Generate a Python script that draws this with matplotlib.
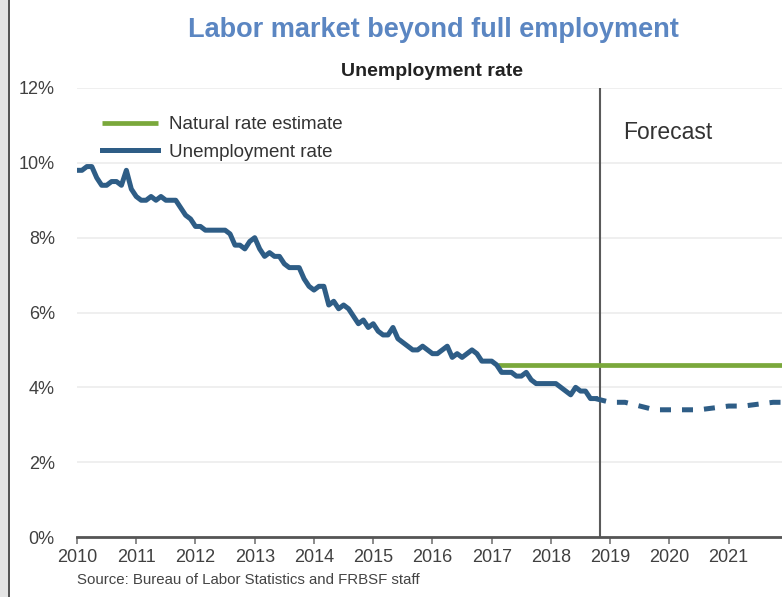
import numpy as np
import matplotlib.pyplot as plt
from matplotlib.patches import Rectangle

plt.rcParams['font.family'] = ['Liberation Sans', 'DejaVu Sans']

# monthly unemployment rate, Jan 2010 - Oct 2018
unrate = [9.8, 9.8, 9.9, 9.9, 9.6, 9.4, 9.4, 9.5, 9.5, 9.4, 9.8, 9.3,
          9.1, 9.0, 9.0, 9.1, 9.0, 9.1, 9.0, 9.0, 9.0, 8.8, 8.6, 8.5,
          8.3, 8.3, 8.2, 8.2, 8.2, 8.2, 8.2, 8.1, 7.8, 7.8, 7.7, 7.9,
          8.0, 7.7, 7.5, 7.6, 7.5, 7.5, 7.3, 7.2, 7.2, 7.2, 6.9, 6.7,
          6.6, 6.7, 6.7, 6.2, 6.3, 6.1, 6.2, 6.1, 5.9, 5.7, 5.8, 5.6,
          5.7, 5.5, 5.4, 5.4, 5.6, 5.3, 5.2, 5.1, 5.0, 5.0, 5.1, 5.0,
          4.9, 4.9, 5.0, 5.1, 4.8, 4.9, 4.8, 4.9, 5.0, 4.9, 4.7, 4.7,
          4.7, 4.6, 4.4, 4.4, 4.4, 4.3, 4.3, 4.4, 4.2, 4.1, 4.1, 4.1,
          4.1, 4.1, 4.0, 3.9, 3.8, 4.0, 3.9, 3.9, 3.7, 3.7]
months = 2010 + np.arange(len(unrate)) / 12

# quarterly forecast
fc_x = [2018.75, 2019.0, 2019.25, 2019.5, 2019.75, 2020.0, 2020.25, 2020.5,
        2020.75, 2021.0, 2021.25, 2021.5, 2021.75, 2022.0]
fc_y = [3.7, 3.6, 3.6, 3.5, 3.4, 3.4, 3.4, 3.4, 3.45, 3.5, 3.5, 3.55, 3.6, 3.6]

natural_x = [2017.1, 2022.0]
natural_y = [4.6, 4.6]

forecast_start = 2018.82
years = list(range(2010, 2022))

blue = '#2e5d86'
green = '#7aa83b'

fig = plt.figure(figsize=(7.82, 5.97), dpi=100)
ax = fig.add_axes([77 / 782, 1 - 537 / 597, 1 - 77 / 782, (537 - 88) / 597])

ax.plot(natural_x, natural_y, color=green, lw=3.4, label='Natural rate estimate',
        solid_capstyle='butt')
ax.plot(months, unrate, color=blue, lw=3.6, label='Unemployment rate',
        solid_joinstyle='round')
ax.plot(fc_x, fc_y, color=blue, lw=3.6, ls=(0, (2.2, 2.2)))
ax.axvline(forecast_start, color='#5a5a5a', lw=1.5, zorder=1)

ax.set_xlim(2010, 2021.9)
ax.set_ylim(0, 12)
ax.set_yticks(range(0, 13, 2))
ax.set_yticklabels([f'{v}%' for v in range(0, 13, 2)])
ax.set_xticks(years)
ax.set_xticklabels([str(y) for y in years])
ax.grid(axis='y', color='#ececec', lw=1.2)
ax.set_axisbelow(True)

for s in ['top', 'right', 'left']:
    ax.spines[s].set_visible(False)
ax.spines['bottom'].set_color('#555555')
ax.spines['bottom'].set_linewidth(2)
ax.tick_params(axis='x', length=5, width=1.2, color='#777777', labelsize=13,
               labelcolor='#404040', pad=4)
ax.tick_params(axis='y', length=0, labelsize=13, labelcolor='#404040', pad=16)

leg = ax.legend(loc='upper left', bbox_to_anchor=(0.011, 0.975), frameon=False,
                fontsize=13.5, handlelength=3.0, handletextpad=0.6,
                labelspacing=0.55, labelcolor='#333333')

ax.text(2018.82 + 0.4, 10.8, 'Forecast', fontsize=16.5, color='#333333',
        va='center')

fig.text(433 / 782, 1 - 30 / 597, 'Labor market beyond full employment',
         ha='center', va='center', fontsize=19.5, fontweight='bold',
         color='#5b86c2')
fig.text(432 / 782, 1 - 71 / 597, 'Unemployment rate', ha='center',
         va='center', fontsize=14, fontweight='bold', color='#222222')
fig.text(77 / 782, 1 - 580 / 597,
         'Source: Bureau of Labor Statistics and FRBSF staff',
         ha='left', va='center', fontsize=10.8, color='#444444')

# slide border on the left
fig.patches.append(Rectangle((0, 0), 8 / 782, 1, transform=fig.transFigure,
                             facecolor='#e4e4e4', edgecolor='none'))
fig.lines.append(plt.Line2D([9 / 782, 9 / 782], [0, 1], transform=fig.transFigure,
                            color='#333333', lw=1.2))

fig.savefig('out.png', dpi=100)
